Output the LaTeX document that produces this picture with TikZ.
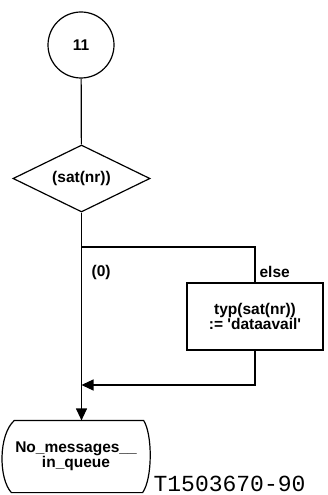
\documentclass[tikz,border=0pt]{standalone}
\usepackage{fontspec}
\setmainfont{Liberation Sans}
\newfontfamily\monofont{Liberation Mono}
\usetikzlibrary{shapes.geometric,arrows.meta}
\begin{document}
\begin{tikzpicture}[x=1bp,y=-1bp,
  line width=1.2bp,
  lbl/.style={font=\fontsize{15.5bp}{13bp}\selectfont\bfseries, inner sep=0pt},
  flow/.style={-{Triangle[length=12bp,width=11bp]}},
  connector/.style={circle, draw, minimum size=66bp, inner sep=0pt, lbl},
  decision/.style={diamond, draw, minimum width=137bp, minimum height=67bp, shape aspect=2.04, inner sep=0pt, lbl},
  task/.style={rectangle, draw, minimum width=136bp, minimum height=67bp, inner sep=0pt, align=center, lbl},
  statebox/.style={minimum width=148bp, minimum height=71bp, inner sep=0pt, align=center, lbl}
]
\useasboundingbox (0,0) rectangle (327,495);

\node[connector] (c) at (81,45) {11};
\node[decision] (d) at (81.5,178.5) {(sat(nr))};
\node[task] (b) at (255,316.5) {typ(sat(nr))\\[-1bp]:= \textquotesingle dataavail\textquotesingle};
\node[statebox] (s) at (76,456.5) {No\_messages\_\_\\in\_queue};

% state outline
\draw ([xshift=13bp]s.north west) -- ([xshift=-7bp]s.north east)
  .. controls ([xshift=2bp,yshift=-14bp]s.north east) and ([xshift=2bp,yshift=14bp]s.south east) .. ([xshift=-8bp]s.south east)
  -- ([xshift=10bp]s.south west)
  .. controls ([xshift=-3bp,yshift=14bp]s.south west) and ([xshift=-3bp,yshift=-14bp]s.north west) .. ([xshift=13bp]s.north west) -- cycle;

\coordinate (j1) at (81.5,247);
\coordinate (j2) at (81.5,385);

\draw (c) -- (d);
\draw[flow] (d.south) -- (d.south |- s.north);
\draw (j1) -| (b.north);
\draw[flow] (b.south) |- (j2);

\node[lbl, anchor=west] (l0) at (91,272) {(0)};
\node[lbl, anchor=west] (le) at (259,272) {else};

\node[font=\monofont\fontsize{23bp}{23bp}\selectfont, anchor=base west, inner sep=0pt] (id) at (153,491) {T1503670-90};
\end{tikzpicture}
\end{document}
